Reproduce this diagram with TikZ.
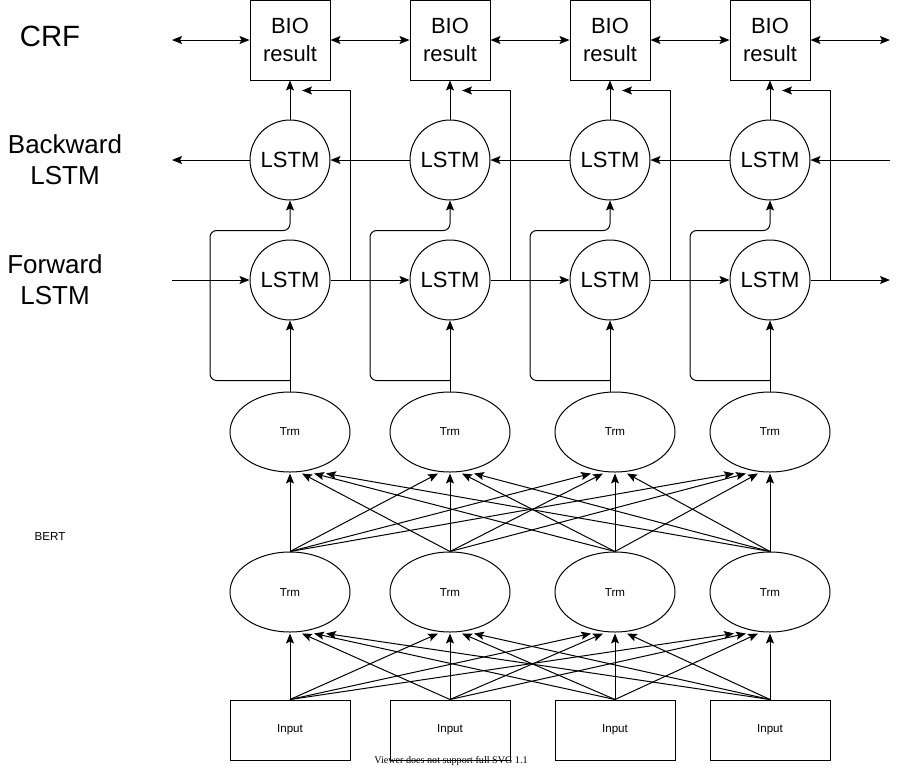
\documentclass[tikz,border=0pt]{standalone}
\usepackage{fontspec}
\setmainfont{Liberation Sans}
\newfontfamily\viewerfont{Liberation Serif}
\usetikzlibrary{arrows.meta,calc,shapes.geometric}

\begin{document}
\begin{tikzpicture}[x=0.75pt,y=0.75pt,yscale=-1,xscale=1,
        line width=0.75pt, >={Stealth[length=7.5pt,width=6pt,inset=1.5pt]},
        lstm/.style={draw,circle,minimum size=60pt,inner sep=0pt,font=\fontsize{16.5}{19}\selectfont},
        bio/.style={draw,minimum size=60pt,inner sep=0pt,align=center,font=\fontsize{16.5}{21}\selectfont},
        trm/.style={draw,ellipse,minimum width=90pt,minimum height=60pt,inner sep=0pt,font=\fontsize{8.7}{10}\selectfont},
        inbox/.style={draw,minimum width=90pt,minimum height=45pt,inner sep=0pt,font=\fontsize{8.7}{10}\selectfont},
        sidelabel/.style={align=center,font=\fontsize{19.5}{23}\selectfont}]
        \useasboundingbox (0,0) rectangle (901,769);

        \foreach \n/\x in {1/290,2/450,3/610,4/770} {
            \node[bio] (c\n) at (\x,40) {BIO\\result};
            \node[lstm] (b\n) at (\x,160) {LSTM};
            \node[lstm] (f\n) at (\x,280) {LSTM};
        }
        \foreach \n/\x in {1/290,2/450,3/615,4/770} {
            \node[trm] (t\n) at (\x,432) {Trm};
            \node[trm] (m\n) at (\x,592) {Trm};
            \node[inbox] (inp\n) at (\x,730) {Input};
        }

        \node[sidelabel,font=\fontsize{22}{26}\selectfont] (crf) at (50,36) {CRF};
        \node[sidelabel] (bwlabel) at (65,160) {Backward\\LSTM};
        \node[sidelabel] (fwlabel) at (55,280) {Forward\\LSTM};
        \node[font=\fontsize{8.7}{10}\selectfont] (bert) at (50,536) {BERT};
        \node[font=\viewerfont\fontsize{7.6}{9}\selectfont] (viewer) at (451,761) {Viewer does not support full SVG 1.1};

        \coordinate (crfL) at (172,40);
        \coordinate (crfR) at (890,40);
        \coordinate (bwL) at (172,160);
        \coordinate (bwR) at (890,160);
        \coordinate (fwL) at (172,280);
        \coordinate (fwR) at (890,280);

        \draw[<->] (crfL) -- (c1);
        \draw[<->] (c4) -- (crfR);
        \draw[->] (bwR) -- (b4);
        \draw[->] (b1) -- (bwL);
        \draw[->] (fwL) -- (f1);
        \draw[->] (f4) -- (fwR);
        \foreach \n/\k in {1/2,2/3,3/4} {
            \draw[<->] (c\n) -- (c\k);
            \draw[->] (b\k) -- (b\n);
            \draw[->] (f\n) -- (f\k);
        }

        \foreach \n in {1,...,4} {
            \draw[->] (b\n) -- (c\n);
            \draw[->] (f\n.east) -- ++(20,0) |- ($(c\n.south)+(12,10)$);
            \draw[->] (f\n |- t\n.north) -- (f\n);
            \draw[->,rounded corners=5] ($(f\n.south)+(0,60)$) -- ++(-80,0) |- ($(b\n.south)+(0,30)$) -- (b\n);
        }

        \foreach \i in {1,...,4} \foreach \j in {1,...,4} {
            \pgfmathtruncatemacro\d{\j-\i}
            \draw[->] (m\j.north) -- ($(t\i.south)+(12*\d,1)$);
            \draw[->] (inp\j.north) -- ($(m\i.south)+(12*\d,1)$);
        }
    \end{tikzpicture}
\end{document}
